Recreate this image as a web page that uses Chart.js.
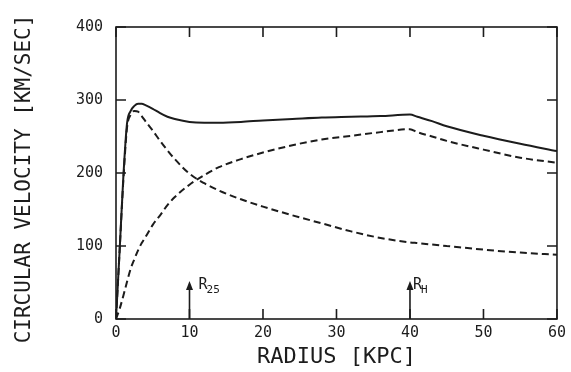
<!DOCTYPE html>
<html><head><meta charset="utf-8">
<script src="https://cdn.jsdelivr.net/npm/chart.js@4/dist/chart.umd.min.js"></script>
<style>html,body{margin:0;padding:0;background:#fff;} #wrap{width:571px;height:372px;}</style>
</head><body><div id="wrap"><canvas id="c" width="571" height="372"></canvas></div>
<script>
// Radius (kpc) sample points
const radius   = [0, 0.5, 1, 1.5, 2, 2.5, 3, 3.5, 4, 5, 6, 7, 8, 10, 12, 14, 17, 20, 24, 28, 32, 36, 40, 41, 43, 45, 50, 55, 60];
// Total rotation curve (solid)
const totalVel = [0, 95, 195, 268, 285, 292, 295, 295, 293, 288, 282, 277, 274, 270, 269, 269, 270, 272, 274, 276, 277, 278, 280, 277, 271, 264, 251, 240, 230];
// Disk component (dashed, peaks early)
const diskVel  = [0, 95, 190, 262, 280, 285, 284, 278, 271, 258, 244, 231, 219, 199, 186, 176, 164, 154, 142, 131, 120, 111, 105, 104, 102, 100, 95, 91, 88];
// Halo component (dashed, rising)
const haloVel  = [0, 14, 32, 51, 69, 82, 94, 104, 112, 129, 142, 156, 167, 184, 197, 208, 219, 228, 238, 246, 251, 256, 260, 256, 250, 244, 232, 221, 214];
// Axis ticks
const xTicks = [0, 10, 20, 30, 40, 50, 60];
const yTicks = [0, 100, 200, 300, 400];
// Axis titles
const xTitle = 'RADIUS [KPC]';
const yTitle = 'CIRCULAR VELOCITY [KM/SEC]';
// Marker arrows (radius value, arrow tip velocity, label, subscript)
const markerX    = [10, 40];
const markerTip  = [52, 52];
const markerMain = ['R', 'R'];
const markerSub  = ['25', 'H'];

const INK = '#1c1c1c';
const MONO = '"DejaVu Sans Mono", "Liberation Mono", monospace';

function pts(ys) { return radius.map((x, i) => ({x: x, y: ys[i]})); }

const framePlugin = {
  id: 'frame',
  afterDraw(chart) {
    const ctx = chart.ctx, a = chart.chartArea;
    const xs = chart.scales.x, ys = chart.scales.y;
    ctx.save();
    ctx.strokeStyle = INK;
    ctx.lineWidth = 1.6;
    ctx.strokeRect(a.left, a.top, a.right - a.left, a.bottom - a.top);
    const tl = 10;
    ctx.beginPath();
    xTicks.forEach(v => {
      const px = xs.getPixelForValue(v);
      ctx.moveTo(px, a.bottom); ctx.lineTo(px, a.bottom - tl);
      ctx.moveTo(px, a.top); ctx.lineTo(px, a.top + tl);
    });
    yTicks.forEach(v => {
      const py = ys.getPixelForValue(v);
      ctx.moveTo(a.left, py); ctx.lineTo(a.left + tl, py);
      ctx.moveTo(a.right, py); ctx.lineTo(a.right - tl, py);
    });
    ctx.stroke();
    // y title
    ctx.save();
    ctx.fillStyle = INK;
    ctx.font = '21px ' + MONO;
    ctx.textAlign = 'center'; ctx.textBaseline = 'middle';
    ctx.translate(25, (a.top + a.bottom) / 2 + 6);
    ctx.rotate(-Math.PI / 2);
    ctx.fillText(yTitle, 0, 0);
    ctx.restore();
    // arrows
    const labelDx = [9, 3];
    markerX.forEach((mx, i) => {
      const px = xs.getPixelForValue(mx);
      const tip = ys.getPixelForValue(markerTip[i]);
      ctx.lineWidth = 1.6;
      ctx.beginPath();
      ctx.moveTo(px, a.bottom); ctx.lineTo(px, tip + 6);
      ctx.stroke();
      ctx.fillStyle = INK;
      ctx.beginPath();
      ctx.moveTo(px, tip); ctx.lineTo(px - 3.5, tip + 9); ctx.lineTo(px + 3.5, tip + 9); ctx.closePath();
      ctx.fill();
      ctx.textAlign = 'left'; ctx.textBaseline = 'alphabetic';
      ctx.font = '15px ' + MONO;
      const lx = px + labelDx[i];
      ctx.fillText(markerMain[i], lx, tip + 8);
      const w = ctx.measureText(markerMain[i]).width;
      ctx.font = '11px ' + MONO;
      ctx.fillText(markerSub[i], lx + w - 1, tip + 12);
    });
    ctx.restore();
  }
};

new Chart(document.getElementById('c'), {
  type: 'line',
  data: {
    datasets: [
      {label: 'Total', data: pts(totalVel), borderColor: INK, borderWidth: 2, pointRadius: 0, cubicInterpolationMode: 'monotone', fill: false},
      {label: 'Disk', data: pts(diskVel), borderColor: INK, borderWidth: 2, borderDash: [7, 4], pointRadius: 0, cubicInterpolationMode: 'monotone', fill: false},
      {label: 'Halo', data: pts(haloVel), borderColor: INK, borderWidth: 2, borderDash: [7, 4], pointRadius: 0, cubicInterpolationMode: 'monotone', fill: false}
    ]
  },
  options: {
    responsive: false,
    animation: false,
    devicePixelRatio: 1,
    layout: {padding: {top: 27, right: 12, left: 0, bottom: 0}},
    plugins: {legend: {display: false}, tooltip: {enabled: false}},
    scales: {
      x: {
        type: 'linear', min: 0, max: 60,
        afterBuildTicks: s => { s.ticks = xTicks.map(v => ({value: v})); },
        afterFit: s => { s.height = 53; },
        grid: {display: true, drawOnChartArea: false, drawTicks: false},
        border: {display: false},
        ticks: {color: INK, font: {family: MONO, size: 15}, padding: 5, maxRotation: 0},
        title: {display: true, text: xTitle, color: INK, font: {family: MONO, size: 22, lineHeight: 1.2}, padding: {top: 0, bottom: 2}}
      },
      y: {
        type: 'linear', min: 0, max: 400,
        afterBuildTicks: s => { s.ticks = yTicks.map(v => ({value: v})); },
        afterFit: s => { s.width = 116; },
        grid: {display: true, drawOnChartArea: false, drawTicks: false},
        border: {display: false},
        ticks: {color: INK, font: {family: MONO, size: 15}, padding: 13},
        title: {display: false}
      }
    }
  },
  plugins: [framePlugin]
});
</script>
</body></html>
